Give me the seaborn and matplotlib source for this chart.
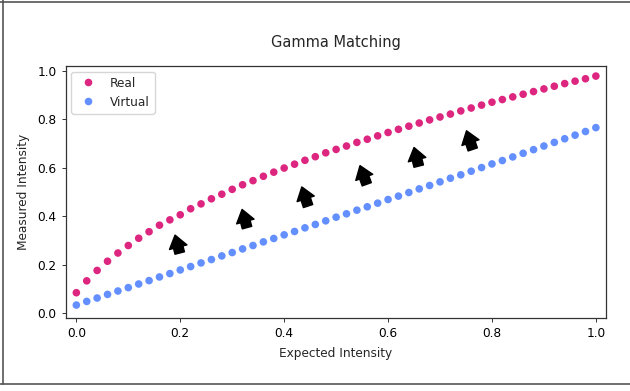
import matplotlib
matplotlib.use("Agg")
import matplotlib.pyplot as plt
from matplotlib.lines import Line2D
import seaborn as sns
import pandas as pd

# ---- data ----
expected = [round(0.02 * i, 2) for i in range(51)]
real = [0.084, 0.133, 0.176, 0.214, 0.248, 0.279, 0.309, 0.336, 0.363, 0.385,
        0.406, 0.431, 0.451, 0.472, 0.491, 0.511, 0.530, 0.547, 0.565, 0.582,
        0.599, 0.615, 0.631, 0.646, 0.662, 0.676, 0.690, 0.705, 0.718, 0.732,
        0.746, 0.759, 0.772, 0.785, 0.798, 0.810, 0.822, 0.835, 0.847, 0.859,
        0.871, 0.882, 0.893, 0.904, 0.915, 0.926, 0.937, 0.948, 0.958, 0.968,
        0.979]
virtual = [0.033, 0.048, 0.062, 0.077, 0.091, 0.105, 0.120, 0.134, 0.149, 0.163,
           0.178, 0.192, 0.207, 0.221, 0.236, 0.250, 0.265, 0.279, 0.294, 0.308,
           0.323, 0.337, 0.352, 0.366, 0.381, 0.396, 0.410, 0.425, 0.439, 0.454,
           0.469, 0.483, 0.498, 0.513, 0.527, 0.542, 0.557, 0.571, 0.586, 0.601,
           0.616, 0.630, 0.645, 0.660, 0.675, 0.690, 0.705, 0.720, 0.735, 0.750,
           0.766]
series_names = ["Real", "Virtual"]
colors = ["#DC267F", "#648FFF"]

# arrows: tail (x, y) -> tip (x, y)
arrow_tail_x = [0.199, 0.3285, 0.446, 0.559, 0.659, 0.763]
arrow_tail_y = [0.248, 0.353, 0.442, 0.532, 0.607, 0.676]
arrow_tip_x = [0.190, 0.319, 0.434, 0.546, 0.650, 0.751]
arrow_tip_y = [0.322, 0.428, 0.521, 0.609, 0.684, 0.753]

df = pd.DataFrame({
    "Expected Intensity": expected * 2,
    "Measured Intensity": real + virtual,
    "series": [series_names[0]] * len(real) + [series_names[1]] * len(virtual),
})

sns.set_style("ticks")
plt.rcParams["font.family"] = ["DejaVu Sans"]

fig = plt.figure(figsize=(6.3, 3.91), dpi=100)
ax = fig.add_axes([65.7 / 630, 1 - 318 / 391, (606 - 65.7) / 630, (318 - 66.3) / 391])

sns.scatterplot(data=df, x="Expected Intensity", y="Measured Intensity",
                hue="series", palette=dict(zip(series_names, colors)),
                s=30, linewidth=0, ax=ax)

for tx, ty, hx, hy in zip(arrow_tail_x, arrow_tail_y, arrow_tip_x, arrow_tip_y):
    ax.annotate("", xy=(hx, hy), xytext=(tx, ty),
                arrowprops=dict(facecolor="black", edgecolor="black",
                                width=7, headwidth=13, headlength=9, shrink=0))

ax.set_xlim(-0.0205, 1.0195)
ax.set_ylim(-0.0205, 1.0194)
ax.set_xticks([0.0, 0.2, 0.4, 0.6, 0.8, 1.0])
ax.set_yticks([0.0, 0.2, 0.4, 0.6, 0.8, 1.0])
ax.set_title("Gamma Matching", fontsize=10.5, pad=14)
ax.set_xlabel("Expected Intensity", fontsize=8.75, labelpad=5)
ax.set_ylabel("Measured Intensity", fontsize=8.75, labelpad=5)
for sp in ax.spines.values():
    sp.set_visible(True)
    sp.set_color("#333333")
    sp.set_linewidth(0.9)
ax.tick_params(colors="black", labelsize=8.75, length=3.1, width=0.7, color="#333333")

handles, labels = ax.get_legend_handles_labels()
ax.legend(handles=handles, labels=labels, loc="upper left", fontsize=8.75,
          frameon=True, framealpha=0.8, edgecolor="#cccccc", borderaxespad=0.45)

# outer frame lines
fig.add_artist(Line2D([0, 1], [1 - 1.5 / 391, 1 - 1.5 / 391], color="#555555", lw=1.2, transform=fig.transFigure))
fig.add_artist(Line2D([2.5 / 630, 2.5 / 630], [1 - 383.5 / 391, 1], color="#555555", lw=1.2, transform=fig.transFigure))
fig.add_artist(Line2D([0, 1], [1 - 383.5 / 391, 1 - 383.5 / 391], color="#555555", lw=1.2, transform=fig.transFigure))

fig.savefig("out.png", dpi=100, facecolor="white")
